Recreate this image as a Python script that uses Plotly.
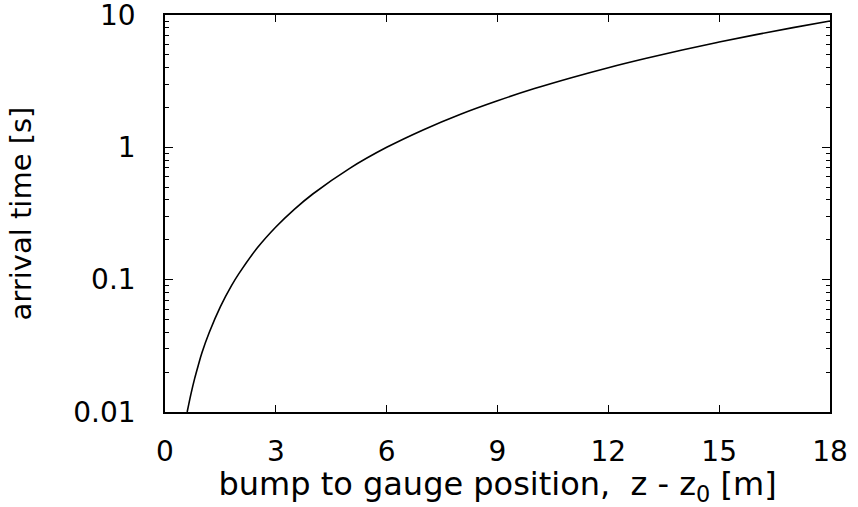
import plotly.graph_objects as go

# readings of the curve (bump-to-gauge distance [m], arrival time [s])
distance_m = [0.6, 0.7, 0.8, 0.9, 1.0, 1.2, 1.5, 1.8, 2.0, 2.5, 3.0, 3.5, 4.0, 5.0, 6.0,
              7.0, 8.0, 9.0, 10.0, 11.0, 12.0, 13.0, 14.0, 15.0, 16.0, 17.0, 18.0]
arrival_s = [0.010, 0.0136, 0.0178, 0.0225, 0.028, 0.040, 0.0625, 0.090, 0.111, 0.174,
             0.25, 0.34, 0.444, 0.694, 1.0, 1.36, 1.78, 2.25, 2.78, 3.36, 4.0, 4.69,
             5.44, 6.25, 7.11, 8.03, 9.0]

x_ticks = [0, 3, 6, 9, 12, 15, 18]
y_tickvals = [0.01, 0.1, 1, 10]
y_ticktext = ["0.01", "0.1", "1", "10"]

FONT = "DejaVu Sans"

fig = go.Figure()
fig.add_trace(go.Scatter(x=distance_m, y=arrival_s, mode="lines",
                         line=dict(color="black", width=1.6, shape="spline"),
                         showlegend=False, hoverinfo="skip"))

fig.update_layout(
    width=858, height=507,
    margin=dict(l=165, r=28, t=15, b=95, autoexpand=False),
    paper_bgcolor="white", plot_bgcolor="white",
    font=dict(family=FONT, color="black"),
)
fig.update_xaxes(
    range=[0, 18], tickvals=x_ticks, ticks="inside", ticklen=7, tickwidth=1.2,
    tickcolor="black", showline=True, linecolor="black", linewidth=1.6,
    mirror="allticks", showgrid=False, zeroline=False, automargin=False,
    tickfont=dict(size=28, family=FONT), ticklabelstandoff=14,
    title=dict(text="bump to gauge position,\u00a0 z - z<sub>0</sub> [m]",
               font=dict(size=32, family=FONT), standoff=12),
)
fig.update_yaxes(
    type="log", range=[-2, 1], tickvals=y_tickvals, ticktext=y_ticktext,
    ticks="inside", ticklen=8, tickwidth=1.2, tickcolor="black",
    showline=True, linecolor="black", linewidth=1.6, mirror="allticks",
    showgrid=False, zeroline=False, automargin=False,
    ticklabeloverflow="allow",
    minor=dict(ticks="inside", ticklen=4, tickwidth=1.0, tickcolor="black",
               dtick="D1", showgrid=False),
    tickfont=dict(size=28, family=FONT), ticklabelstandoff=22,
    title=dict(text="arrival time [s]", font=dict(size=29, family=FONT), standoff=33),
)

fig.write_html("out.html")
